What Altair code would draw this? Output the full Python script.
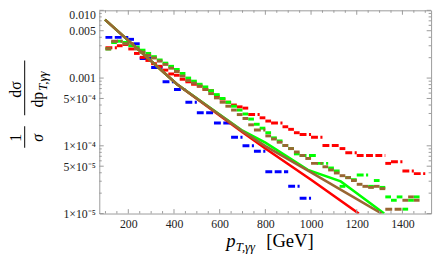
import altair as alt
import pandas as pd

# ---------------- data ----------------
bin_first = 100
bin_width = 25

blue_vals = [3.99e-3, 3.99e-3, 3.99e-3, 3.99e-3, 3.73e-3, 3.21e-3, 1.94e-3, 1.94e-3, 1.43e-3, 1.43e-3,
             8.8e-4, 8.8e-4, 6.8e-4, 6.8e-4, 4.4e-4, 4.4e-4, 3.08e-4, 3.08e-4, 3.08e-4, 2.17e-4,
             2.17e-4, 2.17e-4, 1.34e-4, 1.34e-4, 1.00e-4, 1.00e-4, 8.3e-5, 8.3e-5, 4.15e-5, 4.15e-5,
             4.15e-5, 4.15e-5, 2.52e-5, 2.52e-5, 1.68e-5, 1.68e-5]

red_vals = [2.81e-3, 2.81e-3, 3.00e-3, 3.13e-3, 2.69e-3, 2.31e-3, 2.02e-3, 1.82e-3, 1.63e-3, 1.49e-3,
            1.31e-3, 1.15e-3, 1.10e-3, 9.6e-4, 8.8e-4, 8.1e-4, 7.6e-4, 6.8e-4, 6.5e-4, 5.4e-4,
            4.9e-4, 4.4e-4, 4.0e-4, 3.76e-4, 3.60e-4, 2.89e-4, 2.89e-4, 2.59e-4, 2.32e-4, 2.17e-4,
            2.17e-4, 1.91e-4, 1.75e-4, 1.56e-4, 1.47e-4, 1.47e-4, 1.34e-4, 1.34e-4, 1.01e-4, 1.01e-4,
            1.01e-4, 9.1e-5, 7.9e-5, 7.9e-5, 7.2e-5, 7.2e-5, 7.2e-5, 7.2e-5, 7.2e-5, 5.5e-5,
            5.8e-5, 5.8e-5, 4.25e-5, 4.25e-5, 3.88e-5, 3.88e-5]

green_vals = [2.69e-3, 3.35e-3, 3.50e-3, 3.35e-3, 3.00e-3, 2.87e-3, 2.58e-3, 2.31e-3, 2.07e-3, 1.85e-3,
              1.66e-3, 1.49e-3, 1.34e-3, 1.17e-3, 1.00e-3, 9.0e-4, 8.1e-4, 7.4e-4, 6.5e-4, 5.7e-4,
              5.0e-4, 4.4e-4, 3.84e-4, 3.37e-4, 2.95e-4, 2.48e-4, 2.08e-4, 1.82e-4, 1.56e-4, 1.31e-4,
              1.18e-4, 1.01e-4, 9.1e-5, 7.6e-5, 7.2e-5, 7.2e-5, 7.2e-5, 5.5e-5, 5.5e-5, 4.7e-5,
              4.25e-5, 2.52e-5, 3.39e-5, 3.16e-5, 3.71e-5, 3.71e-5, 2.52e-5, 3.07e-5, 2.43e-5, 1.76e-5,
              1.57e-5, 1.76e-5, 1.16e-5, 1.57e-5, 1.76e-5]

brown_vals = [2.69e-3, 3.50e-3, 3.50e-3, 3.21e-3, 3.21e-3, 2.69e-3, 2.41e-3, 2.16e-3, 1.98e-3, 1.78e-3,
              1.59e-3, 1.40e-3, 1.25e-3, 1.07e-3, 9.2e-4, 8.4e-4, 7.6e-4, 6.8e-4, 5.9e-4, 5.1e-4,
              4.4e-4, 3.84e-4, 3.37e-4, 2.89e-4, 2.53e-4, 2.04e-4, 1.71e-4, 1.71e-4, 1.40e-4, 1.26e-4,
              1.13e-4, 1.01e-4, 9.1e-5, 8.1e-5, 7.2e-5, 6.5e-5, 5.5e-5, 5.5e-5, 4.9e-5, 4.4e-5,
              3.97e-5, 3.62e-5, 3.39e-5, 3.07e-5, 2.70e-5, 2.52e-5, 2.43e-5, 2.52e-5, 2.33e-5, 1.16e-5,
              1.16e-5, 1.16e-5, 1.57e-5, 1.76e-5, 1.57e-5]

red_line_x = [98, 413, 700, 800, 1000, 1209]
red_line_y = [7.3e-3, 8.1e-4, 1.58e-4, 9.1e-5, 3.16e-5, 1.0e-5]
green_line_x = [98, 413, 700, 800, 986, 1130, 1187, 1320]
green_line_y = [7.3e-3, 8.1e-4, 1.67e-4, 1.11e-4, 4.4e-5, 2.98e-5, 2.15e-5, 1.0e-5]
brown_line_x = [98, 413, 700, 800, 1000, 1150, 1309]
brown_line_y = [7.3e-3, 8.1e-4, 1.64e-4, 9.9e-5, 4.06e-5, 2.06e-5, 1.0e-5]

series_names = ["blue", "red", "green", "brown"]
series_colors = ["#0000ff", "#ff0000", "#00ff00", "#996633"]

x_major = [200, 400, 600, 800, 1000, 1200, 1400]
x_minor = [100, 150, 250, 300, 350, 450, 500, 550, 650, 700, 750, 850, 900, 950,
           1050, 1100, 1150, 1250, 1300, 1350, 1450, 1500]
y_major = [0.01, 0.005, 0.001, 5e-4, 1e-4, 5e-5, 1e-5]
y_major_labels = ["0.010", "0.005", "0.001", "5×10⁻⁴", "1×10⁻⁴", "5×10⁻⁵", "1×10⁻⁵"]
y_minor = [2e-5, 3e-5, 4e-5, 6e-5, 7e-5, 8e-5, 9e-5,
           2e-4, 3e-4, 4e-4, 6e-4, 7e-4, 8e-4, 9e-4,
           2e-3, 3e-3, 4e-3, 6e-3, 7e-3, 8e-3, 9e-3]

# ---------------- tables ----------------
def runs(name, vals):
    rows = []
    i = 0
    while i < len(vals):
        j = i
        while j + 1 < len(vals) and vals[j + 1] == vals[i]:
            j += 1
        rows.append(dict(series=name, x=bin_first + i * bin_width,
                         x2=bin_first + (j + 1) * bin_width, y=vals[i]))
        i = j + 1
    return rows

hist_rows = []
for n, v in zip(series_names, [blue_vals, red_vals, green_vals, brown_vals]):
    hist_rows += runs(n, v)
hist_df = pd.DataFrame(hist_rows)

line_rows = []
for n, xs_, ys_ in [("red", red_line_x, red_line_y), ("green", green_line_x, green_line_y),
                    ("brown", brown_line_x, brown_line_y)]:
    for k, (a, b) in enumerate(zip(xs_, ys_)):
        line_rows.append(dict(series=n, x=a, y=b, order=k))
line_df = pd.DataFrame(line_rows)

W, H = 338, 207
FONT = "Liberation Serif"
FRAME = "#9a9a9a"

xs = alt.Scale(domain=[73, 1525.5], nice=False, zero=False)
ys = alt.Scale(type="log", domain=[1e-5, 1e-2], nice=False)
cs = alt.Scale(domain=series_names, range=series_colors)

label_expr = " : ".join(
    f"abs(datum.value - {v}) < {v * 0.01} ? '{l}'" for v, l in zip(y_major, y_major_labels)
) + " : ''"

x_axis = alt.Axis(values=x_major, format="d", tickSize=0, domain=False, grid=False, title=None,
                  labelFont=FONT, labelFontSize=12, labelColor="#222", labelPadding=5)
y_axis = alt.Axis(values=y_major, labelExpr=label_expr, tickSize=0, domain=False, grid=False,
                  title=None, labelFont=FONT, labelFontSize=12, labelColor="#222", labelPadding=4,
                  labelBaseline={"condition": {"test": "datum.value > 0.009", "value": "top"},
                                 "value": "middle"},
                  labelOffset={"condition": {"test": "datum.value > 0.009", "value": -1},
                               "value": 0})

X = lambda f: alt.X(f, scale=xs, axis=x_axis)
Y = lambda f: alt.Y(f, scale=ys, axis=y_axis)

hist = alt.Chart(hist_df).mark_rule(strokeWidth=3, strokeDash=[7, 2.5], strokeCap="butt").encode(
    x=X("x:Q"),
    x2="x2:Q",
    y=Y("y:Q"),
    color=alt.Color("series:N", scale=cs, legend=None),
)

lines = alt.Chart(line_df).mark_line(strokeWidth=2.6, clip=True).encode(
    x=X("x:Q"),
    y=Y("y:Q"),
    color=alt.Color("series:N", scale=cs, legend=None),
    order="order:Q",
    detail="series:N",
)
line_layers = [lines.transform_filter(alt.datum.series == s) for s in ["red", "green", "brown"]]

def xticks(vals, length):
    d = pd.DataFrame({"v": vals})
    bottom = alt.Chart(d).mark_rule(color=FRAME, strokeWidth=1).encode(
        x=X("v:Q"), y=alt.value(H), y2=alt.value(H - length))
    top = alt.Chart(d).mark_rule(color=FRAME, strokeWidth=1).encode(
        x=X("v:Q"), y=alt.value(0), y2=alt.value(length))
    return [bottom, top]

def yticks(vals, length):
    d = pd.DataFrame({"v": vals})
    left = alt.Chart(d).mark_rule(color=FRAME, strokeWidth=1).encode(
        y=Y("v:Q"), x=alt.value(0), x2=alt.value(length))
    right = alt.Chart(d).mark_rule(color=FRAME, strokeWidth=1).encode(
        y=Y("v:Q"), x=alt.value(W), x2=alt.value(W - length))
    return [left, right]

ticks = xticks(x_major, 4.5) + xticks(x_minor, 2.5) + yticks(y_major, 4.5) + yticks(y_minor, 2.5)

one = pd.DataFrame({"a": [0]})

def txt(t, x, y, size, style="normal", angle=0, align="center", baseline="middle"):
    return alt.Chart(one).mark_text(text=t, font=FONT, fontSize=size, fontStyle=style, angle=angle,
                                    align=align, baseline=baseline, color="black").encode(
        x=alt.value(x), y=alt.value(y))

def bar(x, y1, y2):
    return alt.Chart(one).mark_rect(color="black").encode(
        x=alt.value(x - 0.5), x2=alt.value(x + 0.5), y=alt.value(y1), y2=alt.value(y2))

titles = [
    # y title: 1/sigma  dsigma / dp_{T,gg}  (rotated, reading upward)
    txt("1", -85, 134, 16, angle=270, align="left"),
    bar(-76, 118, 140),
    txt("σ", -62, 134, 16, style="italic", angle=270, align="left"),
    txt("dσ", -85, 89, 16, angle=270, align="left"),
    bar(-76, 51, 107),
    txt("dp", -62, 99, 16, angle=270, align="left"),
    txt("T,γγ", -57.5, 82, 13, style="italic", angle=270, align="left"),
    # x title
    txt("p", 134, 241, 19, style="italic", align="center", baseline="alphabetic"),
    txt("T,γγ", 139, 245, 13, style="italic", align="left", baseline="alphabetic"),
    txt("[GeV]", 170, 241, 19, align="left", baseline="alphabetic"),
]

chart = alt.layer(hist, *line_layers, *ticks, *titles).properties(
    width=W, height=H,
    autosize=alt.AutoSizeParams(type="none"),
    padding={"left": 93, "top": 0, "right": 5, "bottom": 47},
).configure_view(stroke=FRAME, strokeWidth=1)

chart.save("out.html", embed_options={"renderer": "svg", "actions": False})
